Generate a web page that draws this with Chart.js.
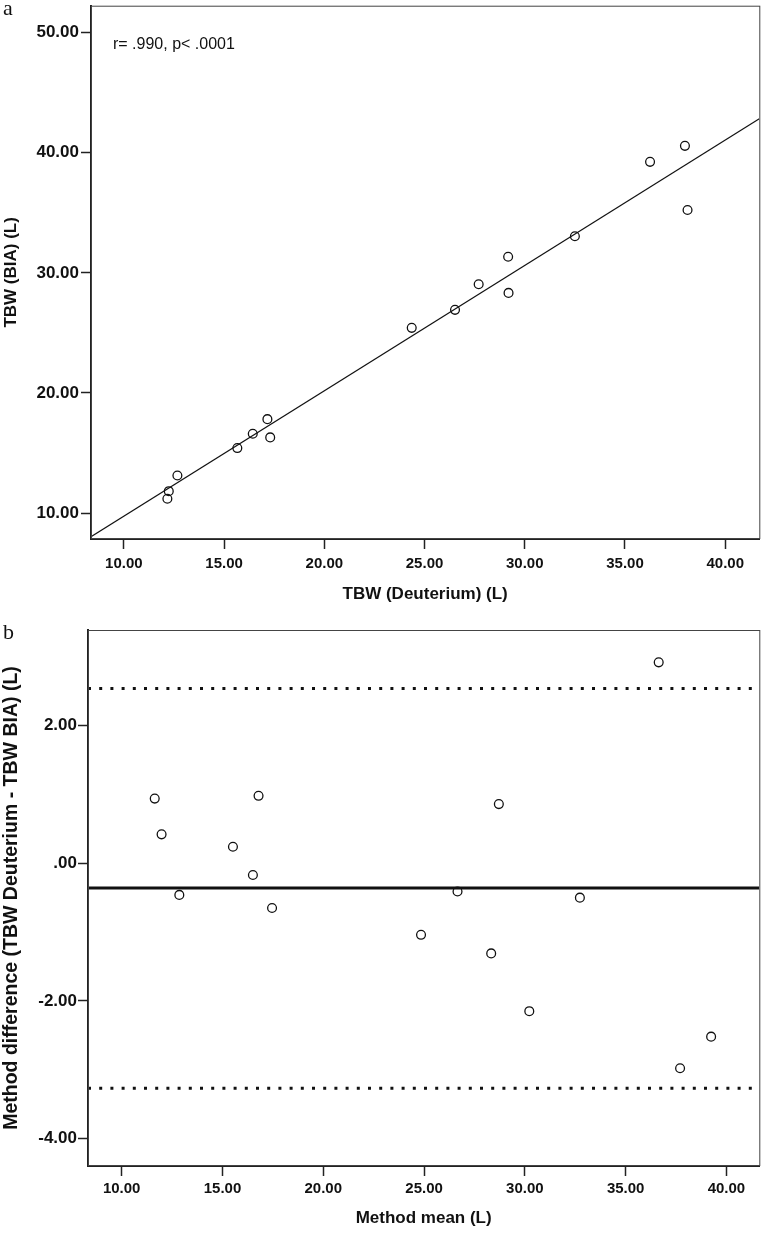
<!DOCTYPE html>
<html>
<head>
<meta charset="utf-8">
<script src="https://cdn.jsdelivr.net/npm/chart.js@4.4.1/dist/chart.umd.min.js"></script>
<style>
  body { margin: 0; background: #fff; }
  #wrap { position: relative; width: 765px; height: 1233px; overflow: hidden; }
  canvas { position: absolute; left: 0; }
  .panel { position: absolute; left: 3px; font-family: "Liberation Serif", "DejaVu Serif", serif; font-size: 22px; color: #111; line-height: 1; }
</style>
</head>
<body>
<div id="wrap">
  <canvas id="chartA" width="765" height="615" style="top:0"></canvas>
  <canvas id="chartB" width="765" height="618" style="top:615px"></canvas>
  <div class="panel" style="top:-3px">a</div>
  <div class="panel" style="top:621px">b</div>
</div>
<script>
// panel a : TBW by deuterium vs TBW by BIA
const tbwDeut = [12.17, 12.24, 12.67, 15.66, 16.43, 17.16, 17.30, 24.36, 26.52, 27.70, 29.17, 29.19, 32.50, 36.25, 37.99, 38.12];
const tbwBia  = [11.19, 11.82, 13.13, 15.41, 16.60, 17.82, 16.30, 25.42, 26.92, 29.05, 31.34, 28.33, 33.05, 39.24, 40.57, 35.23];
const fitSlope = 1.044;
const fitIntercept = -0.70;
const xTicksA = [10, 15, 20, 25, 30, 35, 40];
const yTicksA = [10, 20, 30, 40, 50];
const xRangeA = [8.36, 41.7];
const yRangeA = [7.84, 52.24];
const statText = 'r= .990, p< .0001';

// panel b : Bland-Altman
const methodMean = [11.64, 11.98, 12.86, 15.52, 16.51, 17.46, 16.79, 24.85, 26.66, 28.33, 30.22, 28.71, 32.73, 37.70, 39.24, 36.64];
const methodDiff = [0.94, 0.42, -0.46, 0.24, -0.17, -0.65, 0.98, -1.04, -0.41, -1.31, -2.15, 0.86, -0.50, -2.98, -2.52, 2.92];
const meanDiff = -0.36;
const upperLoa = 2.54;
const lowerLoa = -3.27;
const xTicksB = [10, 15, 20, 25, 30, 35, 40];
const yTicksB = [-4, -2, 0, 2];
const xRangeB = [8.33, 41.63];
const yRangeB = [-4.40, 3.39];

const ink = '#111';
const tickFontX = { family: 'Liberation Sans, Arial, sans-serif', size: 15, weight: 'bold' };
// small lineHeight so the top label does not push the plot area down
const tickFontY = { family: 'Liberation Sans, Arial, sans-serif', size: 17, weight: 'bold', lineHeight: 0.2 };
const titleFont = { family: 'Liberation Sans, Arial, sans-serif', size: 17, weight: 'bold' };
const titleFontBig = { family: 'Liberation Sans, Arial, sans-serif', size: 19.5, weight: 'bold' };

function fmt(v) {
  return Number(v).toFixed(2).replace(/^(-?)0\./, '$1.');
}

function toPoints(xs, ys) {
  return xs.map((x, i) => ({ x: x, y: ys[i] }));
}

function hLine(y, range) {
  return [{ x: range[0], y: y }, { x: range[1], y: y }];
}

const framePlugin = {
  id: 'frame',
  afterDatasetsDraw(chart) {
    const a = chart.chartArea;
    const ctx = chart.ctx;
    ctx.save();
    ctx.strokeStyle = '#444';
    ctx.lineWidth = 1;
    ctx.strokeRect(a.left + 0.5, a.top + 0.5, a.right - a.left, a.bottom - a.top - 1);
    ctx.restore();
  }
};

const statPlugin = {
  id: 'stat',
  afterDraw(chart) {
    if (chart.canvas.id !== 'chartA') return;
    const a = chart.chartArea;
    const ctx = chart.ctx;
    ctx.save();
    ctx.fillStyle = ink;
    ctx.font = '16px "Liberation Sans", Arial, sans-serif';
    ctx.textBaseline = 'middle';
    ctx.fillText(statText, 113, 45);
    ctx.restore();
  }
};

function axis(range, ticks, title, fit, tickFont, pad, tFont, titlePad) {
  return {
    type: 'linear',
    min: range[0],
    max: range[1],
    afterBuildTicks: s => { s.ticks = ticks.map(v => ({ value: v })); },
    afterFit: fit,
    grid: { display: true, drawOnChartArea: false, drawTicks: true, tickLength: 10, tickWidth: 1.5, tickColor: '#222' },
    border: { display: true, color: '#222', width: 2 },
    ticks: { font: tickFont, color: ink, padding: pad, callback: v => fmt(v), maxRotation: 0, autoSkip: false },
    title: { display: true, text: title, font: tFont, color: ink, padding: titlePad }
  };
}

function pointSet(data) {
  return {
    data: data,
    order: 1,
    pointStyle: 'circle',
    pointRadius: 4.4,
    pointBorderWidth: 1.3,
    pointBorderColor: ink,
    pointBackgroundColor: 'rgba(255,255,255,0)',
    showLine: false
  };
}

function lineSet(data, width, dash) {
  return {
    data: data,
    order: 0,
    showLine: true,
    pointRadius: 0,
    borderColor: ink,
    borderWidth: width,
    borderDash: dash,
    borderCapStyle: 'butt',
    fill: false
  };
}

// chart a
const fitLine = xRangeA.map(x => ({ x: x, y: fitSlope * x + fitIntercept }));
new Chart(document.getElementById('chartA'), {
  type: 'scatter',
  data: {
    datasets: [
      pointSet(toPoints(tbwDeut, tbwBia)),
      lineSet(fitLine, 1.2, [])
    ]
  },
  options: {
    responsive: false,
    animation: false,
    devicePixelRatio: 1,
    layout: { padding: { top: 1, right: 4, left: 0, bottom: 0 } },
    plugins: { legend: { display: false }, tooltip: { enabled: false } },
    scales: {
      x: axis(xRangeA, xTicksA, 'TBW (Deuterium) (L)', s => { s.height = 76; }, tickFontX, 6, titleFont, { top: 4, bottom: 10 }),
      y: axis(yRangeA, yTicksA, 'TBW (BIA) (L)', s => { s.width = 91; }, tickFontY, 2, titleFont, { top: 1, bottom: 0 })
    }
  },
  plugins: [framePlugin, statPlugin]
});

// chart b
new Chart(document.getElementById('chartB'), {
  type: 'scatter',
  data: {
    datasets: [
      pointSet(toPoints(methodMean, methodDiff)),
      lineSet(hLine(meanDiff, xRangeB), 3, []),
      lineSet(hLine(upperLoa, xRangeB), 3.2, [3, 8.2]),
      lineSet(hLine(lowerLoa, xRangeB), 3.2, [3, 8.2])
    ]
  },
  options: {
    responsive: false,
    animation: false,
    devicePixelRatio: 1,
    layout: { padding: { top: 15, right: 5, left: 0, bottom: 0 } },
    plugins: { legend: { display: false }, tooltip: { enabled: false } },
    scales: {
      x: axis(xRangeB, xTicksB, 'Method mean (L)', s => { s.height = 67; }, tickFontX, 4, titleFont, { top: 4, bottom: 4 }),
      y: axis(yRangeB, yTicksB, 'Method difference (TBW Deuterium - TBW BIA) (L)', s => { s.width = 88; }, tickFontY, 1, titleFontBig, { top: 0, bottom: 0 })
    }
  },
  plugins: [framePlugin, statPlugin]
});
</script>
</body>
</html>
